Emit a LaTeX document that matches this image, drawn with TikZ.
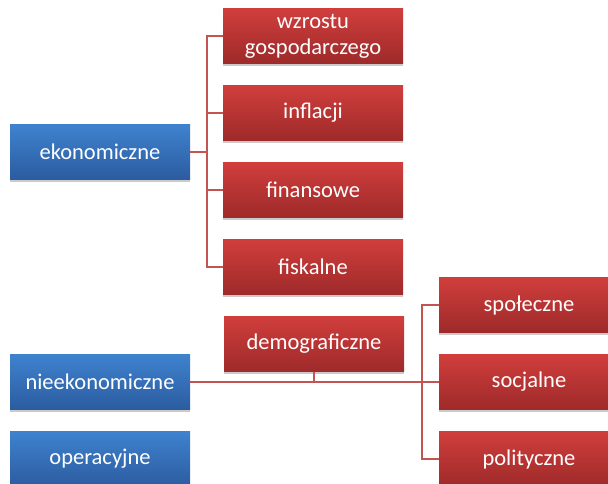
\documentclass[tikz,border=0pt]{standalone}
\usepackage{fontspec}
\setmainfont{Carlito}
\usetikzlibrary{positioning, calc, shadows}
\definecolor{redtop}{RGB}{208,62,60}
\definecolor{redbot}{RGB}{158,42,42}
\definecolor{bluetop}{RGB}{62,130,206}
\definecolor{bluebot}{RGB}{44,92,160}
\definecolor{linkred}{RGB}{196,84,82}
\begin{document}
\begin{tikzpicture}[x=1pt,y=-1pt,
box/.style={rectangle, minimum width=180pt, minimum height=55pt, inner sep=0pt,
  text=white, align=center, font=\fontsize{22.5}{26}\selectfont,
  drop shadow={shadow xshift=0pt, shadow yshift=-2.5pt, opacity=0.35, fill=black!60}},
redbox/.style={box, top color=redtop, bottom color=redbot},
bluebox/.style={box, top color=bluetop, bottom color=bluebot},
link/.style={draw=linkred, line width=1.2pt}]
\useasboundingbox (0,0) rectangle (608,484);
% left column
\node[bluebox] (eko) at (100,152) {ekonomiczne};
\node[bluebox] (niee) at (100,382) {nieekonomiczne};
\node[bluebox] (oper) at (100,459) {operacyjne};
% economic factors
\node[redbox] (wzr) at (313,36) {wzrostu\\gospodarczego};
\node[redbox] (inf) at (313,113) {inflacji};
\node[redbox] (fin) at (313,190) {finansowe};
\node[redbox] (fis) at (313,267) {fiskalne};
% non-economic factors
\node[redbox] (demo) at (314,344) {demograficzne};
\node[redbox] (spo) at (529,305) {społeczne};
\node[redbox] (soc) at (529,382) {socjalne};
\node[redbox] (pol) at (529,459) {polityczne};
% connectors
\coordinate (ekobus) at (207,152);
\coordinate (niebus) at (422,382);
\draw[link] (eko.east) -- (ekobus);
\foreach \n in {wzr,inf,fin,fis}
  \draw[link] (ekobus) |- (\n.west);
\draw[link] (niee.east) -- (niebus);
\draw[link] (demo.south) -- (demo.south |- niee.east);
\foreach \n in {spo,soc,pol}
  \draw[link] (niebus) |- (\n.west);
\end{tikzpicture}
\end{document}
